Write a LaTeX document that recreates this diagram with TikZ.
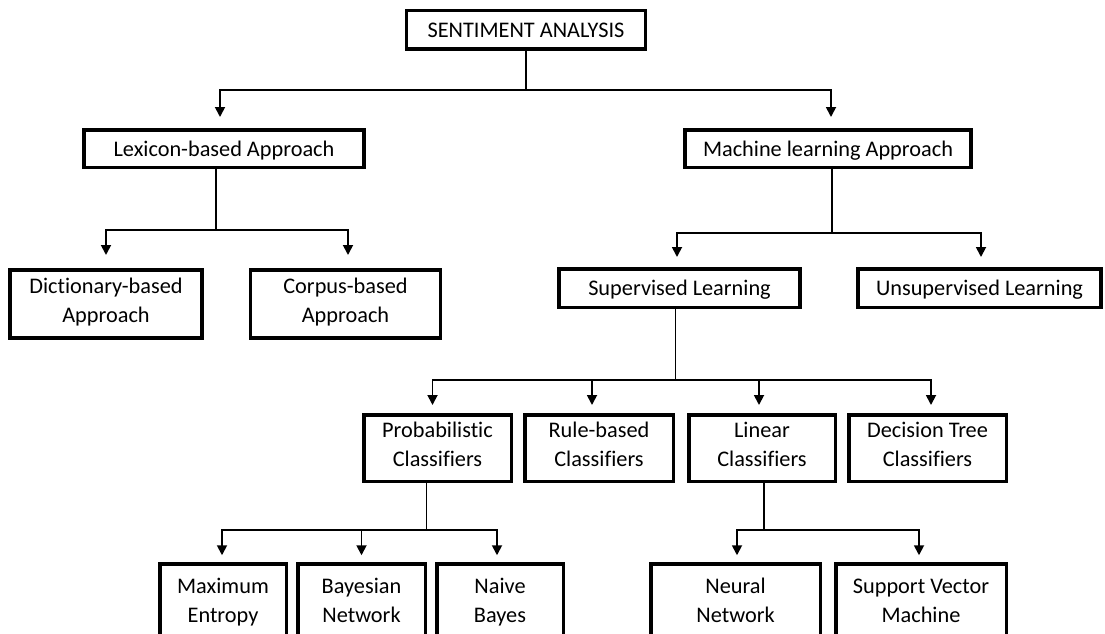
\documentclass[tikz,border=0pt]{standalone}
\usepackage{fontspec}
\setmainfont{Carlito}[Ligatures=CommonOff]
\usetikzlibrary{arrows.meta}

\newcommand{\boxstrut}{\rule[-7pt]{0pt}{29pt}}% 22pt above, 7pt below the baseline

\tikzset{
  box/.style={draw=black, line width=3.5pt, fill=white, align=center, inner sep=0pt,
    font=\fontsize{22.3}{29}\selectfont,
    execute at begin node=\boxstrut, execute at end node=\boxstrut},
  conn/.style={draw=black, line width=1.8pt},
  arr/.style={conn, -{Triangle[width=10pt,length=10pt]}},
}

\begin{document}
\begin{tikzpicture}[x=1pt,y=-1pt]
  \useasboundingbox (0,0) rectangle (1105,634);
  \clip (0,0) rectangle (1105,634);

  % root and approaches
  \node[box, minimum width=239pt, minimum height=38.5pt] (sa) at (526,30) {SENTIMENT ANALYSIS};
  \node[box, minimum width=280pt, minimum height=37.5pt] (lex) at (224,148.5) {Lexicon-based Approach};
  \node[box, minimum width=286pt, minimum height=37.5pt] (ml) at (828,148.5) {Machine learning Approach};

  % lexicon side
  \node[box, minimum width=192pt, minimum height=68pt] (dict) at (106,303.75) {Dictionary-based\\Approach};
  \node[box, minimum width=190pt, minimum height=68pt] (corp) at (345.5,303.75) {Corpus-based\\Approach};

  % machine learning side
  \node[box, minimum width=241pt, minimum height=38.5pt] (sup) at (679.5,288) {Supervised Learning};
  \node[box, minimum width=243pt, minimum height=38.5pt] (uns) at (979.5,288) {Unsupervised Learning};

  % classifiers
  \node[box, minimum width=147.5pt, minimum height=66.5pt] (prob) at (437.5,448) {Probabilistic\\Classifiers};
  \node[box, minimum width=148.5pt, minimum height=66.5pt] (rule) at (599,448) {Rule-based\\Classifiers};
  \node[box, minimum width=146.5pt, minimum height=66.5pt] (lin) at (762,448) {Linear\\Classifiers};
  \node[box, minimum width=157.5pt, minimum height=66.5pt] (dec) at (927.5,448) {Decision Tree\\Classifiers};

  % leaves (cut off at the bottom)
  \node[box, minimum width=126.5pt, minimum height=80pt] (maxent) at (223,604) {Maximum\\Entropy};
  \node[box, minimum width=127.5pt, minimum height=80pt] (bayes) at (361.5,604) {Bayesian\\Network};
  \node[box, minimum width=126.5pt, minimum height=80pt] (naive) at (500,604) {Naive\\Bayes};
  \node[box, minimum width=169.5pt, minimum height=80pt] (neural) at (735.5,604) {Neural\\Network};
  \node[box, minimum width=170.5pt, minimum height=80pt] (svm) at (921,604) {Support Vector\\Machine};

  % connectors
  \coordinate (j0) at (sa.south |- 0,90);
  \draw[conn] (sa.south) -- (j0);
  \draw[arr, shorten >=11pt] (j0) -| ([xshift=-4pt]lex.north);
  \draw[arr, shorten >=11pt] (j0) -| ([xshift=3pt]ml.north);

  \coordinate (j1) at ([xshift=-8pt]lex.south |- 0,230);
  \draw[conn] ([xshift=-8pt]lex.south) -- (j1);
  \draw[arr, shorten >=13pt] (j1) -| (dict.north);
  \draw[arr, shorten >=13pt] (j1) -| ([xshift=2.5pt]corp.north);

  \coordinate (j2) at ([xshift=4pt]ml.south |- 0,233);
  \draw[conn] ([xshift=4pt]ml.south) -- (j2);
  \draw[arr, shorten >=10pt] (j2) -| ([xshift=-2.5pt]sup.north);
  \draw[arr, shorten >=10pt] (j2) -| ([xshift=1.5pt]uns.north);

  \coordinate (j3) at ([xshift=-4pt]sup.south |- 0,380);
  \draw[conn] ([xshift=-4pt]sup.south) -- (j3);
  \draw[arr, shorten >=8pt] (j3) -| ([xshift=-5pt]prob.north);
  \draw[arr, shorten >=8pt] (j3) -| ([xshift=-7pt]rule.north);
  \draw[arr, shorten >=8pt] (j3) -| ([xshift=-3pt]lin.north);
  \draw[arr, shorten >=8pt] (j3) -| ([xshift=3.5pt]dec.north);

  \coordinate (j4) at ([xshift=-11pt]prob.south |- 0,530);
  \draw[conn] ([xshift=-11pt]prob.south) -- (j4);
  \draw[arr, shorten >=7pt] (j4) -| ([xshift=-1pt]maxent.north);
  \draw[arr, shorten >=7pt] (j4) -| (bayes.north);
  \draw[arr, shorten >=7pt] (j4) -| ([xshift=-3pt]naive.north);

  \coordinate (j5) at ([xshift=2pt]lin.south |- 0,530);
  \draw[conn] ([xshift=2pt]lin.south) -- (j5);
  \draw[arr, shorten >=7pt] (j5) -| ([xshift=1.5pt]neural.north);
  \draw[arr, shorten >=7pt] (j5) -| ([xshift=-2pt]svm.north);
\end{tikzpicture}
\end{document}
